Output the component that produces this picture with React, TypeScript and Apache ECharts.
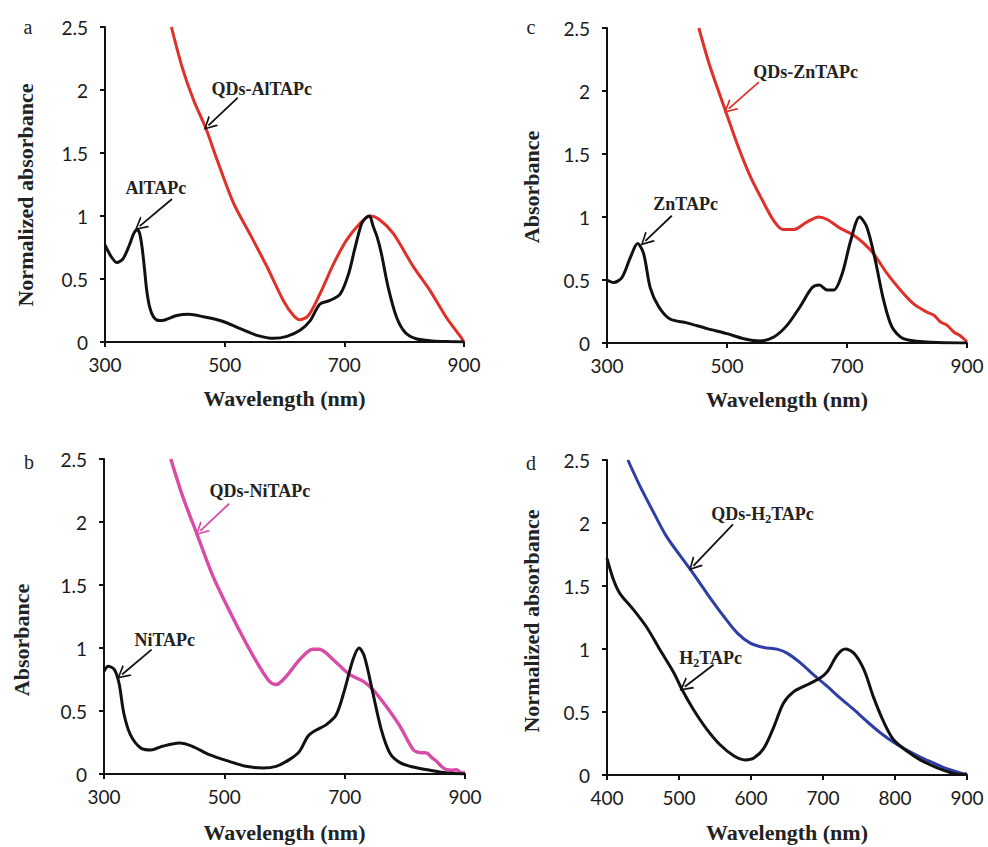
import React, { useEffect, useRef } from "react";
import * as echarts from "echarts";

// ---- Panel a: AlTAPc and QDs-AlTAPc ----
const WL_AL = [300, 310, 320, 330, 340, 348, 354, 358, 362, 366, 370, 375, 381, 390, 400, 420, 440, 465, 495, 526, 554, 582, 604, 626, 643, 659, 676, 693, 707, 718, 729, 737, 742, 748, 755, 762, 773, 787, 801, 820, 848, 875, 900];
const ABS_AL = [0.77, 0.68, 0.63, 0.66, 0.76, 0.86, 0.89, 0.86, 0.75, 0.58, 0.4, 0.27, 0.2, 0.17, 0.175, 0.21, 0.22, 0.2, 0.167, 0.106, 0.053, 0.029, 0.045, 0.093, 0.17, 0.3, 0.33, 0.38, 0.54, 0.75, 0.94, 0.99, 1.0, 0.92, 0.83, 0.7, 0.44, 0.2, 0.08, 0.026, 0.008, 0.003, 0];
const WL_QD_AL = [411, 429, 448, 469, 487, 515, 543, 571, 598, 615, 626, 640, 659, 682, 704, 726, 743, 759, 782, 815, 843, 870, 885, 893, 900];
const ABS_QD_AL = [2.5, 2.18, 1.92, 1.69, 1.45, 1.1, 0.85, 0.595, 0.33, 0.21, 0.177, 0.21, 0.38, 0.62, 0.81, 0.94, 1.0, 0.97, 0.86, 0.6, 0.41, 0.198, 0.1, 0.05, 0];

// ---- Panel c: ZnTAPc and QDs-ZnTAPc ----
const WL_ZN = [300, 311, 325, 339, 351, 361, 372, 386, 405, 433, 467, 500, 528, 555, 578, 600, 622, 642, 654, 667, 678, 692, 706, 721, 733, 747, 761, 775, 794, 833, 900];
const ABS_ZN = [0.5, 0.48, 0.52, 0.68, 0.79, 0.71, 0.44, 0.29, 0.19, 0.16, 0.114, 0.074, 0.034, 0.016, 0.048, 0.14, 0.29, 0.44, 0.46, 0.42, 0.42, 0.55, 0.81, 1.0, 0.92, 0.66, 0.34, 0.127, 0.034, 0.008, 0];
const WL_QD_ZN = [453, 472, 497, 517, 539, 556, 578, 594, 611, 633, 653, 667, 689, 711, 728, 744, 767, 789, 811, 833, 845, 856, 867, 878, 888, 900];
const ABS_QD_ZN = [2.5, 2.19, 1.85, 1.58, 1.32, 1.16, 0.97, 0.9, 0.9, 0.96, 1.0, 0.98, 0.91, 0.855, 0.79, 0.71, 0.55, 0.42, 0.31, 0.246, 0.22, 0.167, 0.14, 0.087, 0.06, 0.01];

// ---- Panel b: NiTAPc and QDs-NiTAPc ----
const WL_NI = [300, 307, 317, 325, 333, 344, 361, 378, 397, 425, 447, 475, 508, 536, 564, 586, 608, 625, 639, 653, 669, 686, 700, 714, 724, 733, 747, 761, 775, 792, 814, 842, 869, 900];
const ABS_NI = [0.815, 0.855, 0.83, 0.72, 0.48, 0.31, 0.206, 0.19, 0.22, 0.246, 0.22, 0.153, 0.1, 0.061, 0.048, 0.061, 0.114, 0.18, 0.3, 0.35, 0.39, 0.47, 0.67, 0.91, 1.0, 0.93, 0.64, 0.35, 0.167, 0.09, 0.055, 0.029, 0.008, 0];
const WL_QD_NI = [411, 431, 454, 481, 508, 536, 558, 575, 586, 603, 625, 647, 658, 681, 708, 731, 747, 769, 792, 814, 825, 836, 845, 853, 861, 869, 878, 886, 893, 900];
const ABS_QD_NI = [2.5, 2.2, 1.91, 1.57, 1.3, 1.04, 0.855, 0.735, 0.71, 0.775, 0.907, 0.99, 0.99, 0.907, 0.79, 0.735, 0.67, 0.537, 0.378, 0.193, 0.17, 0.167, 0.13, 0.1, 0.06, 0.034, 0.03, 0.034, 0.01, 0.008];

// ---- Panel d: H2TAPc and QDs-H2TAPc ----
const WL_H2 = [400, 409, 418, 437, 456, 474, 493, 504, 520, 539, 557, 576, 592, 604, 618, 632, 645, 659, 678, 696, 706, 720, 731, 743, 757, 770, 784, 798, 817, 835, 854, 872, 891, 900];
const ABS_H2 = [1.72, 1.55, 1.44, 1.31, 1.165, 0.99, 0.81, 0.68, 0.52, 0.36, 0.24, 0.153, 0.12, 0.135, 0.214, 0.386, 0.57, 0.66, 0.716, 0.77, 0.82, 0.954, 1.0, 0.967, 0.835, 0.62, 0.425, 0.28, 0.188, 0.12, 0.069, 0.029, 0.003, 0.01];
const WL_QD_H2 = [429, 446, 465, 483, 516, 539, 562, 581, 599, 618, 636, 650, 669, 687, 706, 724, 743, 761, 780, 798, 817, 835, 854, 872, 891, 900];
const ABS_QD_H2 = [2.5, 2.29, 2.08, 1.89, 1.63, 1.44, 1.26, 1.126, 1.047, 1.012, 0.999, 0.967, 0.888, 0.795, 0.703, 0.61, 0.518, 0.425, 0.333, 0.259, 0.196, 0.143, 0.095, 0.05, 0.016, 0];

// Tick labels
const X_LABELS_FULL = [300, 500, 700, 900];
const Y_RANGE = { min: 0, max: 2.5, interval: 0.5 };

const RED = "#e0302a";
const PINK = "#d84ba6";
const BLUE = "#2e3ea6";
const INK = "#111111";

const SERIF = '"Liberation Serif", "Times New Roman", serif';
const SANS = 'Lato, "Open Sans", sans-serif';

const zip = (xs: number[], ys: number[]) => xs.map((x, i) => [x, ys[i]]);

// Open chevron arrow head, tip pointing "up" in symbol space
const ARROW_HEAD = "path://M5 0 L10 10 L8.6 10 L5 2.6 L1.4 10 L0 10 Z";

const annoRich = {
  t: { fontFamily: SERIF, fontWeight: "bold", fontSize: 18, color: "#222", lineHeight: 22 },
  s: { fontFamily: SERIF, fontWeight: "bold", fontSize: 12, color: "#222", lineHeight: 12, verticalAlign: "bottom" },
};

function arrow(from: number[], to: number[], color: string) {
  return {
    silent: true,
    symbol: ["none", ARROW_HEAD],
    symbolSize: [14, 13],
    animation: false,
    label: { show: false },
    lineStyle: { color, width: 1.8, type: "solid" },
    emphasis: { disabled: true },
    data: [[{ coord: from }, { coord: to }]],
  };
}

function tag(at: number[], text: string) {
  return {
    silent: true,
    animation: false,
    symbol: "rect",
    symbolSize: 1,
    itemStyle: { color: "rgba(0,0,0,0)" },
    label: { show: true, position: "inside", formatter: text, rich: annoRich },
    data: [{ coord: at }],
  };
}

function spectrum(idx: number, name: string, data: number[][], color: string, width: number, markLine: any, markPoint: any) {
  return {
    type: "line",
    name,
    xAxisIndex: idx,
    yAxisIndex: idx,
    data,
    showSymbol: false,
    smooth: 0.3,
    lineStyle: { color, width },
    itemStyle: { color },
    z: color === INK ? 3 : 2,
    markLine,
    markPoint,
  };
}

function xAxis(idx: number, min: number, customLabels: number[] | null, nameGap: number) {
  const ax: any = {
    type: "value",
    gridIndex: idx,
    min,
    max: 900,
    interval: 100,
    name: "Wavelength (nm)",
    nameLocation: "middle",
    nameGap,
    nameTextStyle: { fontFamily: SERIF, fontWeight: "bold", fontSize: 22, color: "#222" },
    axisLine: { show: true, onZero: false, lineStyle: { color: INK, width: 2 } },
    axisTick: { show: true, length: 5, lineStyle: { color: INK, width: 2 } },
    axisLabel: { fontFamily: SANS, fontSize: 19, color: "#1a1a1a", margin: 13 },
    splitLine: { show: false },
  };
  if (customLabels) {
    ax.axisLabel.customValues = customLabels;
    ax.axisTick.customValues = customLabels;
  }
  return ax;
}

function yAxis(idx: number) {
  return {
    type: "value",
    gridIndex: idx,
    ...Y_RANGE,
    axisLine: { show: true, lineStyle: { color: INK, width: 2 } },
    axisTick: { show: true, length: 5, lineStyle: { color: INK, width: 2 } },
    axisLabel: { fontFamily: SANS, fontSize: 19, color: "#1a1a1a", margin: 17 },
    splitLine: { show: false },
  };
}

function textEl(x: number, y: number, text: string, font: string, rotation = 0) {
  return {
    type: "text",
    x,
    y,
    rotation,
    style: { text, font, fill: "#222", align: "center", verticalAlign: "middle" },
  };
}

export default function App() {
  const ref = useRef<HTMLDivElement>(null);

  useEffect(() => {
    if (!ref.current) return;
    const chart = echarts.init(ref.current, null, { renderer: "svg" });

    const titleFont = `bold 22px ${SERIF}`;
    const letterFont = `20px ${SERIF}`;

    chart.setOption({
      animation: false,
      backgroundColor: "#ffffff",
      grid: [
        { left: 105, top: 27, width: 359, height: 315 },
        { left: 607, top: 28, width: 360, height: 315 },
        { left: 104, top: 459, width: 361, height: 315 },
        { left: 607, top: 460, width: 360, height: 315 },
      ],
      xAxis: [
        xAxis(0, 300, X_LABELS_FULL, 45),
        xAxis(1, 300, X_LABELS_FULL, 45),
        xAxis(2, 300, X_LABELS_FULL, 47),
        xAxis(3, 400, null, 46),
      ],
      yAxis: [yAxis(0), yAxis(1), yAxis(2), yAxis(3)],
      graphic: [
        textEl(28, 27, "a", letterFont),
        textEl(531, 27, "c", letterFont),
        textEl(29, 462, "b", letterFont),
        textEl(531, 463, "d", letterFont),
        textEl(25, 195, "Normalized absorbance", titleFont, Math.PI / 2),
        textEl(531, 187, "Absorbance", titleFont, Math.PI / 2),
        textEl(21, 640, "Absorbance", titleFont, Math.PI / 2),
        textEl(531, 621, "Normalized absorbance", titleFont, Math.PI / 2),
      ],
      series: [
        // a
        spectrum(0, "QDs-AlTAPc", zip(WL_QD_AL, ABS_QD_AL), RED, 3,
          arrow([522, 1.94], [473, 1.72], INK), tag([562, 2.01], "{t|QDs-AlTAPc}")),
        spectrum(0, "AlTAPc", zip(WL_AL, ABS_AL), INK, 3,
          arrow([412, 1.135], [358, 0.92], INK), tag([385, 1.22], "{t|AlTAPc}")),
        // c
        spectrum(1, "QDs-ZnTAPc", zip(WL_QD_ZN, ABS_QD_ZN), RED, 3,
          arrow([553, 2.07], [503, 1.86], RED), tag([631, 2.15], "{t|QDs-ZnTAPc}")),
        spectrum(1, "ZnTAPc", zip(WL_ZN, ABS_ZN), INK, 3,
          arrow([408, 1.01], [364, 0.81], INK), tag([431, 1.1], "{t|ZnTAPc}")),
        // b
        spectrum(2, "QDs-NiTAPc", zip(WL_QD_NI, ABS_QD_NI), PINK, 3.4,
          arrow([508, 2.145], [460, 1.93], PINK), tag([559, 2.25], "{t|QDs-NiTAPc}")),
        spectrum(2, "NiTAPc", zip(WL_NI, ABS_NI), INK, 3,
          arrow([379, 0.987], [330, 0.79], INK), tag([401, 1.066], "{t|NiTAPc}")),
        // d
        spectrum(3, "QDs-H2TAPc", zip(WL_QD_H2, ABS_QD_H2), BLUE, 3,
          arrow([575, 1.99], [520, 1.66], INK), tag([616, 2.07], "{t|QDs-H}{s|2}{t|TAPc}")),
        spectrum(3, "H2TAPc", zip(WL_H2, ABS_H2), INK, 3,
          arrow([548, 0.875], [508, 0.7], INK), tag([544, 0.93], "{t|H}{s|2}{t|TAPc}")),
      ],
    });

    return () => chart.dispose();
  }, []);

  return (
    <div
      ref={ref}
      style={{ position: "absolute", left: 0, top: 0, width: 988, height: 847, background: "#fff" }}
    />
  );
}
